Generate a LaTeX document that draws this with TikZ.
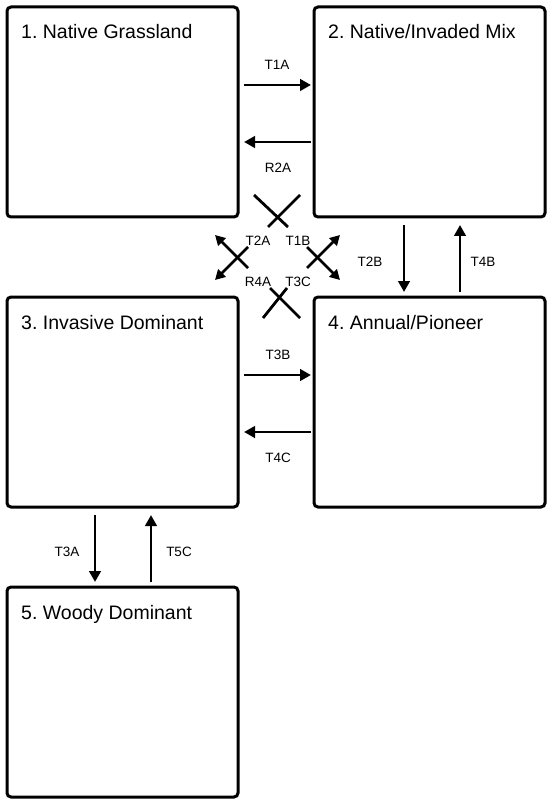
\documentclass[tikz,border=0pt]{standalone}
\usepackage{fontspec}
\setmainfont{Liberation Sans}
\usetikzlibrary{arrows.meta,calc}
\frenchspacing
\begin{document}
\begin{tikzpicture}[x=1pt,y=-1pt,
  box/.style={draw=black, line width=3pt, rounded corners=4pt, fill=white,
    minimum width=231pt, minimum height=210pt, outer sep=0pt, inner sep=0pt},
  title/.style={anchor=base west, inner sep=0pt, font=\fontsize{19.5}{22}\selectfont},
  lbl/.style={inner sep=0pt, font=\fontsize{13.5}{16}\selectfont},
  arr/.style={line width=2.9pt, -{Triangle[length=11pt,width=11.5pt]}},
  darr/.style={line width=2.8pt, -{Triangle[length=10pt,width=10.5pt]}},
  seg/.style={line width=2.8pt}]
\useasboundingbox (0,0) rectangle (546,799);
% boxes
\node[box] (b1) at (122.5,112) {};
\node[box] (b2) at (429.5,112) {};
\node[box] (b3) at (122.5,402) {};
\node[box] (b4) at (429.5,402) {};
\node[box] (b5) at (122.5,692) {};
% titles
\node[title] (t1) at ([shift={(14,32)}]b1.north west) {1. Native Grassland};
\node[title] (t2) at ([shift={(14,32)}]b2.north west) {2. Native/Invaded Mix};
\node[title] (t3) at ([shift={(14,32)}]b3.north west) {3. Invasive Dominant};
\node[title] (t4) at ([shift={(14,32)}]b4.north west) {4. Annual/Pioneer};
\node[title] (t5) at ([shift={(14,32)}]b5.north west) {5. Woody Dominant};
% horizontal arrows
\draw[arr] ([shift={(6,-27)}]b1.east) -- ([shift={(-3,-27)}]b2.west);
\draw[arr] ([shift={(-3,30)}]b2.west) -- ([shift={(6,30)}]b1.east);
\draw[arr] ([shift={(6,-27)}]b3.east) -- ([shift={(-3,-27)}]b4.west);
\draw[arr] ([shift={(-3,30)}]b4.west) -- ([shift={(6,30)}]b3.east);
% vertical arrows
\draw[arr] ([shift={(-25.5,8)}]b2.south) -- ([shift={(-25.5,-5)}]b4.north);
\draw[arr] ([shift={(30.5,-5)}]b4.north) -- ([shift={(30.5,8)}]b2.south);
\draw[arr] ([shift={(-27.5,8)}]b3.south) -- ([shift={(-27.5,-5)}]b5.north);
\draw[arr] ([shift={(28.5,-5)}]b5.north) -- ([shift={(28.5,8)}]b3.south);
% central crossings
\coordinate (xa1) at (254,195); \coordinate (xa2) at (288,227);
\coordinate (xb1) at (300,195); \coordinate (xb2) at (268,227);
\draw[seg] (xa1) -- (xa2);
\draw[seg] (xb1) -- (xb2);
\coordinate (ya1) at (263,318); \coordinate (ya2) at (287,288);
\coordinate (yb1) at (300,318); \coordinate (yb2) at (270,288);
\draw[seg] (ya1) -- (ya2);
\draw[seg] (yb1) -- (yb2);
\coordinate (la1) at (248,268); \coordinate (la2) at (215,235);
\coordinate (lb1) at (248,247); \coordinate (lb2) at (215,280);
\draw[darr] (la1) -- (la2);
\draw[darr] (lb1) -- (lb2);
\coordinate (ra1) at (307,268); \coordinate (ra2) at (340,235);
\coordinate (rb1) at (307,247); \coordinate (rb2) at (340,280);
\draw[darr] (ra1) -- (ra2);
\draw[darr] (rb1) -- (rb2);
% labels
\node[lbl] (l1) at (277,65) {T1A};
\node[lbl] (l2) at (278,168) {R2A};
\node[lbl] (l3) at (278,355) {T3B};
\node[lbl] (l4) at (278,458) {T4C};
\node[lbl] (l5) at (258,241) {T2A};
\node[lbl] (l6) at (298,241) {T1B};
\node[lbl] (l7) at (258,282) {R4A};
\node[lbl] (l8) at (298,282) {T3C};
\node[lbl] (l9) at (370,262) {T2B};
\node[lbl] (l10) at (483,262) {T4B};
\node[lbl] (l11) at (67,552) {T3A};
\node[lbl] (l12) at (179,552) {T5C};
\end{tikzpicture}
\end{document}
